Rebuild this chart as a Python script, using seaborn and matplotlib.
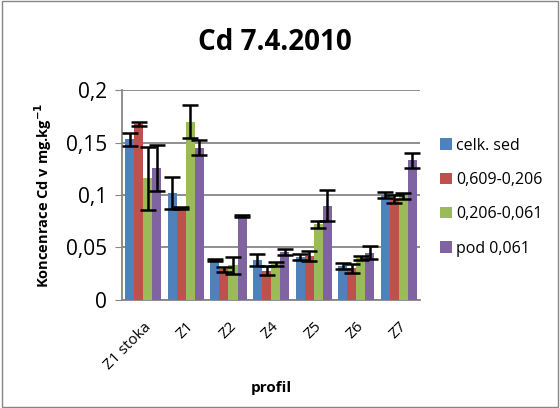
import matplotlib
matplotlib.use("Agg")
import matplotlib.pyplot as plt
import seaborn as sns
import pandas as pd
import numpy as np

# data
profily = ["Z1 stoka", "Z1", "Z2", "Z4", "Z5", "Z6", "Z7"]
frakce = ["celk. sed", "0,609-0,206", "0,206-0,061", "pod 0,061"]
barvy = ["#4f81bd", "#c0504d", "#9bbb59", "#8064a2"]

celk_sed = [0.153, 0.102, 0.038, 0.038, 0.041, 0.032, 0.100]
f_609_206 = [0.168, 0.088, 0.029, 0.028, 0.042, 0.030, 0.096]
f_206_061 = [0.116, 0.170, 0.033, 0.034, 0.072, 0.040, 0.099]
pod_061 = [0.126, 0.145, 0.080, 0.046, 0.090, 0.045, 0.133]

err_celk = [0.006, 0.015, 0.001, 0.006, 0.003, 0.003, 0.003]
err_609 = [0.002, 0.001, 0.002, 0.004, 0.005, 0.004, 0.004]
err_206 = [0.030, 0.016, 0.008, 0.002, 0.003, 0.002, 0.003]
err_pod = [0.022, 0.007, 0.001, 0.003, 0.015, 0.006, 0.007]

hodnoty = [celk_sed, f_609_206, f_206_061, pod_061]
chyby = [err_celk, err_609, err_206, err_pod]

df = pd.DataFrame({
    "profil": np.repeat([profily], 4, axis=0).ravel(),
    "frakce": np.repeat(frakce, len(profily)),
    "Cd": np.concatenate(hodnoty),
})

plt.rcParams["font.family"] = ["Open Sans", "DejaVu Sans"]

fig = plt.figure(figsize=(5.6, 4.08), dpi=100)
ax = fig.add_axes([0.218, 0.265, 0.532, 0.514])

sns.barplot(data=df, x="profil", y="Cd", hue="frakce", order=profily,
            hue_order=frakce, palette=barvy, width=0.85, errorbar=None,
            saturation=1, ax=ax, zorder=3)

# chybove useky
bar_cont = list(ax.containers)
for i, cont in enumerate(bar_cont):
    xs = [p.get_x() + p.get_width() / 2 for p in cont.patches]
    ax.errorbar(xs, hodnoty[i], yerr=chyby[i], fmt="none", ecolor="black",
                elinewidth=1.8, capsize=5.5, capthick=1.8, zorder=4)

ax.set_ylim(0, 0.2)
ax.set_yticks([0, 0.05, 0.1, 0.15, 0.2])
ax.set_yticklabels(["0", "0,05", "0,1", "0,15", "0,2"], fontsize=15)
ax.set_xlim(-0.5, 6.5)
ax.set_xticks(range(len(profily)))
ax.set_xticklabels(profily, rotation=45, ha="right", rotation_mode="anchor", fontsize=11)
ax.tick_params(axis="x", length=0, pad=14)
ax.tick_params(axis="y", length=5, color="#868686", direction="out", pad=6)
ax.yaxis.grid(True, color="#868686", linewidth=1.3, zorder=0)
ax.set_axisbelow(True)
for s in ["top", "right"]:
    ax.spines[s].set_visible(False)
for s in ["left", "bottom"]:
    ax.spines[s].set_color("#868686")
    ax.spines[s].set_linewidth(1.3)

ax.set_xlabel("profil", fontsize=11, fontweight="bold", labelpad=6)
ax.set_ylabel("Koncenrace Cd v mg.kg$^{\\mathbf{-1}}$", fontsize=10.5, fontweight="bold", labelpad=8)
fig.text(0.49, 0.895, "Cd 7.4.2010", fontsize=20, fontweight="bold", ha="center", va="center")

ax.legend(loc="center left", bbox_to_anchor=(1.02, 0.49), frameon=False,
          fontsize=11.5, handlelength=0.7, handleheight=0.7, handletextpad=0.3,
          labelspacing=1.15)

fig.patches.append(plt.Rectangle((0.003, 0.003), 0.994, 0.994, transform=fig.transFigure,
                                 fill=False, edgecolor="#868686", linewidth=1))

fig.savefig("out.png", dpi=100, facecolor="white")
